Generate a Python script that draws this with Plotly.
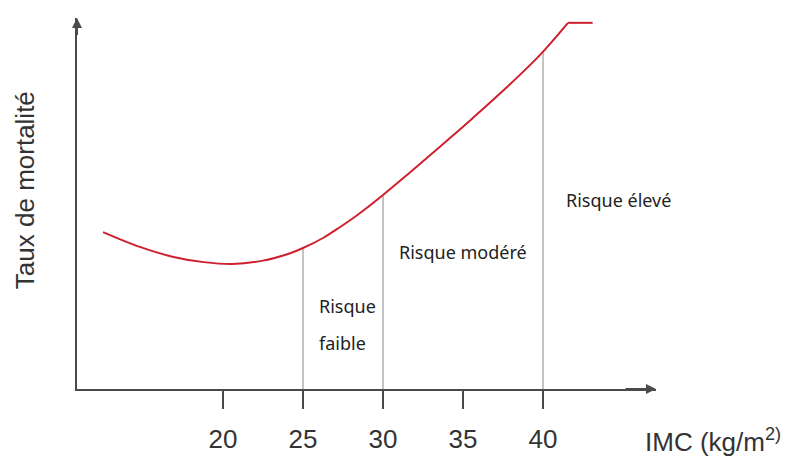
import plotly.graph_objects as go
import numpy as np

# Courbe (IMC, taux de mortalité relatif)
imc = [12.5, 14.8, 16.9, 18.8, 20.6, 22.5, 24.2, 25.0, 26.25, 27.3, 28.4, 30.0, 31.5,
       32.9, 34.2, 35.6, 37.75, 39.8, 41.56, 43.1]
mortalite = [42.3, 38.3, 35.6, 34.2, 33.7, 34.6, 36.6, 38.0, 40.7, 43.6, 46.9, 52.3, 57.7,
             62.9, 67.7, 73.0, 81.4, 90.0, 98.7, 98.7]

tick_vals = [20, 25, 30, 35, 40]
tick_text = ["20", "25", "30", "35", "40"]
seuils = [25, 30, 40]

zones = ["Risque", "faible", "Risque modéré", "Risque élevé"]
zones_x = [25.875, 25.875, 34.97, 44.69]
zones_y = [22.4, 12.4, 36.9, 50.9]

x_range = [10.875, 47.06]
y_range = [0, 100]

RED = "#d0202e"
AX = "#4a4a4a"
ARIAL = "Liberation Sans, Arial, sans-serif"
SEGOE = "Noto Sans, Open Sans, sans-serif"

fig = go.Figure()
fig.add_trace(go.Scatter(x=imc[:-1], y=mortalite[:-1], mode="lines",
                         line=dict(color=RED, width=2, shape="spline", smoothing=1.0),
                         hoverinfo="skip", showlegend=False))
fig.add_trace(go.Scatter(x=imc[-2:], y=mortalite[-2:], mode="lines",
                         line=dict(color=RED, width=2),
                         hoverinfo="skip", showlegend=False))

for s in seuils:
    top = float(np.interp(s, imc, mortalite))
    fig.add_shape(type="line", x0=s, x1=s, y0=0, y1=top, xref="x", yref="y",
                  line=dict(color="#8a8a8a", width=1), layer="below")

for t, x, y in zip(zones, zones_x, zones_y):
    fig.add_annotation(x=x, y=y, text=t, showarrow=False,
                       xanchor="left" if t in ("Risque", "faible") else "center",
                       font=dict(family=SEGOE, size=18, color="#222222"))

# Flèches des axes
fig.add_annotation(x=x_range[1], y=0, ax=x_range[1] - 2, ay=0, axref="x", ayref="y",
                   xref="x", yref="y", text="", showarrow=True, arrowhead=2,
                   arrowsize=1, arrowwidth=2, arrowcolor=AX)
fig.add_annotation(x=x_range[0], y=y_range[1], ax=x_range[0], ay=y_range[1] - 5,
                   axref="x", ayref="y", xref="x", yref="y", text="", showarrow=True,
                   arrowhead=2, arrowsize=1, arrowwidth=2, arrowcolor=AX)

fig.add_annotation(xref="paper", yref="paper", x=-0.0898, y=0.536, text="Taux de mortalité",
                   textangle=-90, showarrow=False, xanchor="center", yanchor="middle",
                   font=dict(family=ARIAL, size=26, color="#333333"))
fig.add_annotation(xref="paper", yref="paper", x=1.0, xshift=-13, y=0, yshift=-51,
                   text="IMC (kg/m<sup>2)</sup>", showarrow=False,
                   xanchor="left", yanchor="middle",
                   font=dict(family=ARIAL, size=26, color="#333333"))

fig.update_xaxes(range=x_range, showline=True, linecolor=AX, linewidth=2,
                 ticks="outside", ticklen=18, tickwidth=2, tickcolor=AX,
                 ticklabelstandoff=8, automargin=False,
                 tickvals=tick_vals, ticktext=tick_text, showgrid=False, zeroline=False,
                 tickfont=dict(family=ARIAL, size=26, color="#333333"))
fig.update_yaxes(range=y_range, showline=True, linecolor=AX, linewidth=2, automargin=False,
                 showticklabels=False, ticks="", showgrid=False, zeroline=False)

fig.update_layout(width=789, height=456,
                  margin=dict(l=77, r=133, t=18, b=67, autoexpand=False),
                  plot_bgcolor="white", paper_bgcolor="white")

fig.write_html("out.html", config={"displayModeBar": False},
               post_script="document.body.style.margin='0';document.body.style.overflow='hidden';")
